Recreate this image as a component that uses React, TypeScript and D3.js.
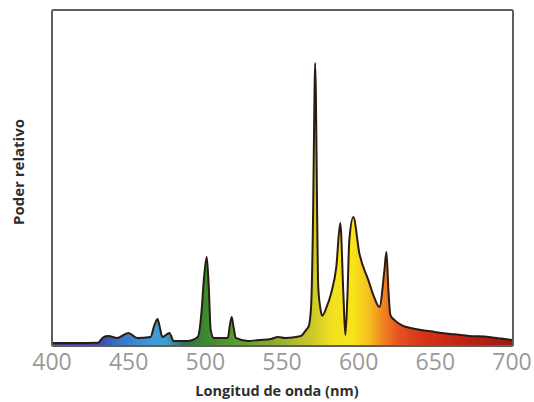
import React from 'react';
import * as d3 from 'd3';

// spectrum: wavelength (nm) and relative power (0-100)
const wavelengths = [
  400, 415, 430, 433.4, 436.7, 442.6, 449.8, 455.7, 464.2, 466.8, 468.8, 470, 472, 476.6, 479.3,
  488.4, 495, 497.6, 499, 500.9, 502.2, 503.5, 505.5, 514.6, 516, 517.2, 518.5, 519.9, 527.7,
  535, 542.8, 547.4, 552, 558, 562.4, 565.7, 567.5, 569, 570.3, 571.2, 571.6, 572.1, 572.9,
  573.6, 574.9, 576.2, 579, 582.1, 585.4, 588, 590, 591.3, 592.6, 593.9, 596.5, 600.4, 606.3,
  610.3, 613.5, 616.8, 618.1, 619.4, 620.7, 623.4, 628, 638, 649.6, 660, 671.8, 685, 693, 700,
];
const power = [
  0.9, 0.9, 1.0, 2.6, 3.0, 2.4, 3.9, 2.4, 2.7, 6.2, 8.0, 6.2, 2.7, 3.9, 1.5,
  1.5, 2.7, 10.7, 19.6, 26.5, 18.0, 4.8, 2.4, 2.4, 6.2, 8.6, 5.4, 2.4, 1.5,
  1.8, 2.1, 2.7, 2.4, 2.6, 3.0, 4.8, 6.0, 12.0, 40.0, 75.0, 84.2, 75.0, 40.0,
  18.0, 11.6, 9.0, 11.5, 15.8, 23.5, 36.6, 15.8, 3.3, 14.0, 31.5, 38.4, 27.7, 19.6,
  14.3, 11.6, 22.6, 28.0, 16.7, 9.2, 7.7, 6.2, 5.0, 4.2, 3.6, 3.0, 2.7, 2.2, 1.8,
];

// colour stops of the visible spectrum used for the fill
const stopWavelengths = [400, 430, 442, 462, 474, 486, 500, 520, 545, 560, 572, 582, 596, 606, 615, 626, 642, 670, 700];
const stopColors = [
  '#3a388c', '#3b47a6', '#3a6fc6', '#3b98d8', '#3fa0cc', '#2f6a5a', '#3c8a30', '#5c9b2c',
  '#8eab31', '#b4bc30', '#d2cc26', '#f1e020', '#f8e41a', '#f6c21f', '#f08a22', '#e55220',
  '#d73318', '#bf2211', '#a11a10',
];

const xTicks = [400, 450, 500, 550, 600, 650, 700];

const width = 534;
const height = 402;
const plot = { left: 52, right: 512, top: 10, bottom: 346 };

export default function App() {
  const x = d3.scaleLinear().domain([400, 700]).range([plot.left, plot.right]);
  const y = d3.scaleLinear().domain([0, 100]).range([plot.bottom, plot.top]);

  const points: [number, number][] = wavelengths.map((w, i) => [w, power[i]]);

  const area = d3
    .area<[number, number]>()
    .x(d => x(d[0]))
    .y0(y(0))
    .y1(d => y(d[1]))
    .curve(d3.curveMonotoneX);

  const line = d3
    .line<[number, number]>()
    .x(d => x(d[0]))
    .y(d => y(d[1]))
    .curve(d3.curveMonotoneX);

  return (
    <svg
      width={width}
      height={height}
      style={{ position: 'absolute', left: 0, top: 0, background: '#fff' }}
    >
      <defs>
        <linearGradient id="spectrum" gradientUnits="userSpaceOnUse" x1={x(400)} x2={x(700)} y1={0} y2={0}>
          {stopWavelengths.map((w, i) => (
            <stop key={w} offset={(w - 400) / 300} stopColor={stopColors[i]} />
          ))}
        </linearGradient>
      </defs>

      {/* filled spectrum */}
      <path d={area(points) ?? ''} fill="url(#spectrum)" />
      <path
        d={line(points) ?? ''}
        fill="none"
        stroke="#2a1c12"
        strokeWidth={2}
        strokeLinejoin="round"
      />

      {/* frame */}
      <rect
        x={plot.left}
        y={plot.top}
        width={plot.right - plot.left + 1}
        height={plot.bottom - plot.top}
        fill="none"
        stroke="#5e5e5e"
        strokeWidth={2}
        rx={1.5}
      />

      {/* x tick labels */}
      {xTicks.map(t => (
        <text
          key={t}
          x={x(t)}
          y={370}
          textAnchor="middle"
          fontFamily="'Open Sans', sans-serif"
          fontSize={23}
          fill="#9a9a9a"
        >
          {t}
        </text>
      ))}

      <text
        x={277}
        y={396}
        textAnchor="middle"
        fontFamily="'Open Sans', sans-serif"
        fontWeight={700}
        fontSize={14.5}
        fill="#2e2e2e"
      >
        Longitud de onda (nm)
      </text>

      <text
        transform={`translate(24, 172) rotate(-90)`}
        textAnchor="middle"
        fontFamily="'Open Sans', sans-serif"
        fontWeight={700}
        fontSize={15}
        fill="#2e2e2e"
      >
        Poder relativo
      </text>
    </svg>
  );
}
